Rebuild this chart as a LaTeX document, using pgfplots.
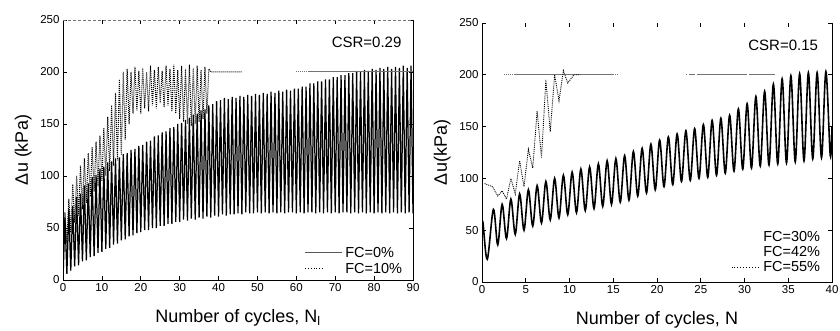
\documentclass[border=0pt]{standalone}
\usepackage{pgfplots}
\pgfplotsset{compat=1.18}
\usepackage{fontspec}
\setmainfont{Liberation Sans}
\pgfplotsset{
  base/.style={scale only axis, width=350pt,
    axis line style={draw=none},
    tick align=inside, major tick length=4pt,
    tick style={black, line width=0.6pt},
    ymin=0, ymax=250, ytick={0,50,...,250},
    /pgf/number format/assume math mode=true,
    tick label style={font=\fontsize{11.5}{12}\selectfont},
    label style={font=\fontsize{18}{20}\selectfont},
    xlabel style={at={(axis description cs:0.5,-0.146)}, anchor=center},
    ylabel style={at={(axis description cs:-0.114,0.5)}, anchor=center},
  },
}
\tikzset{leg/.style={anchor=west, inner sep=0pt, font=\fontsize{14.5}{15}\selectfont}}
\begin{document}
\begin{tikzpicture}
\useasboundingbox (0,0) rectangle (840pt,331pt);
% ---------------- left panel ----------------
\begin{axis}[base, at={(63pt,51pt)}, anchor=south west, height=260pt,
  xmin=0, xmax=90, xtick={0,10,...,90},
  xlabel={Number of cycles, N\textsubscript{l}}, ylabel={Δu (kPa)}]
% FC=0%
\addplot[black, line width=1.25pt] coordinates {
(0,0) (0.5,60) (1,6) (1.5,68) (2,9) (2.5,71) (3,13) (3.5,80) (4,14) (4.5,83)
(5,18) (5.5,91) (6,19) (6.5,93) (7,22) (7.5,99) (8,23) (8.5,101) (9,26) (9.5,107)
(10,27) (10.5,109) (11,30) (11.5,113) (12,31) (12.5,114) (13,34) (13.5,117) (14,35) (14.5,118)
(15,38) (15.5,121) (16,39) (16.5,122) (17,42) (17.5,125) (18,43) (18.5,126) (19,45) (19.5,129)
(20,46) (20.5,130) (21,48) (21.5,133) (22,48) (22.5,134) (23,50) (23.5,138) (24,50) (24.5,139)
(25,52) (25.5,142) (26,52) (26.5,143) (27,54) (27.5,146) (28,54) (28.5,147) (29,56) (29.5,150)
(30,56) (30.5,151) (31,58) (31.5,154) (32,57) (32.5,156) (33,59) (33.5,159) (34,58) (34.5,160)
(35,60) (35.5,163) (36,59) (36.5,164) (37,61) (37.5,168) (38,60) (38.5,169) (39,62) (39.5,172)
(40,61) (40.5,173) (41,63) (41.5,175) (42,62) (42.5,174) (43,63) (43.5,176) (44,63) (44.5,175)
(45,64) (45.5,177) (46,63) (46.5,176) (47,65) (47.5,178) (48,64) (48.5,177) (49,64) (49.5,179)
(50,65) (50.5,178) (51,64) (51.5,180) (52,65) (52.5,179) (53,64) (53.5,181) (54,65) (54.5,180)
(55,64) (55.5,182) (56,65) (56.5,181) (57,64) (57.5,183) (58,65) (58.5,182) (59,65) (59.5,184)
(60,64) (60.5,184) (61,65) (61.5,186) (62,64) (62.5,186) (63,65) (63.5,189) (64,65) (64.5,189)
(65,64) (65.5,191) (66,65) (66.5,191) (67,64) (67.5,193) (68,65) (68.5,193) (69,64) (69.5,195)
(70,65) (70.5,195) (71,64) (71.5,197) (72,65) (72.5,197) (73,65) (73.5,199) (74,64) (74.5,199)
(75,65) (75.5,201) (76,64) (76.5,200) (77,65) (77.5,202) (78,64) (78.5,201) (79,65) (79.5,203)
(80,64) (80.5,202) (81,65) (81.5,204) (82,64) (82.5,203) (83,65) (83.5,205) (84,64) (84.5,203)
(85,65) (85.5,205) (86,64) (86.5,204) (87,65) (87.5,206) (88,64) (88.5,204) (89,65) (89.5,206)
(90,64)};
% FC=10%
\addplot[black, line width=1pt, densely dotted] coordinates {
(0,15) (0.5,65) (1,35) (1.5,78) (2,45) (2.5,92) (3,55) (3.5,100) (4,62) (4.5,110)
(5,68) (5.5,117) (6,74) (6.5,122) (7,80) (7.5,128) (8,85) (8.5,133) (9,90) (9.5,139)
(10,95) (10.5,146) (11,100) (11.5,157) (12,105) (12.5,168) (13,110) (13.5,180) (14,115) (14.5,193)
(15,120) (15.5,200) (16,135) (16.5,203) (17,150) (17.5,200) (18,160) (18.5,205) (19,163) (19.5,201)
(20,160) (20.5,204) (21,165) (21.5,200) (22,162) (22.5,206) (23,168) (23.5,202) (24,165) (24.5,205)
(25,170) (25.5,201) (26,166) (26.5,206) (27,168) (27.5,203) (28,162) (28.5,207) (29,160) (29.5,202)
(30,155) (30.5,206) (31,152) (31.5,203) (32,150) (32.5,207) (33,148) (33.5,204) (34,150) (34.5,206)
(35,152) (35.5,202) (36,155) (36.5,205) (37,160) (37.5,203) (38,200) (46,200)};
% reference line at 200
\addplot[black!55, line width=1pt] coordinates {(63,200) (90,200)};
\addplot[black!55, line width=1pt, densely dotted] coordinates {(60,200) (63,200)};
% legend
\draw[black!65, line width=1pt] (axis description cs:0.691,0.104) -- (axis description cs:0.797,0.104);
\node[leg] at (axis description cs:0.806,0.104) {FC=0\%};
\draw[black, line width=0.9pt, dotted] (axis description cs:0.691,0.046) -- (axis description cs:0.745,0.046);
\node[leg] at (axis description cs:0.806,0.046) {FC=10\%};
\node[anchor=east, font=\fontsize{15}{15}\selectfont] at (axis description cs:0.977,0.915) {CSR=0.29};
\end{axis}
% ---------------- right panel ----------------
\begin{axis}[base, at={(482pt,49pt)}, anchor=south west, height=259pt,
  xmin=0, xmax=40, xtick={0,5,...,40},
  xlabel={Number of cycles, N}, ylabel={Δu(kPa)}]
% FC=42% (liquefied, at 200)
\addplot[black!55, line width=1.2pt] coordinates {(3.7,200) (15,200)};
\addplot[black!55, line width=1pt, densely dotted] coordinates {(2.5,200) (3.7,200)};
\addplot[black!55, line width=1pt, densely dotted] coordinates {(15,200) (15.6,200)};
\addplot[black!55, line width=1.1pt, dash pattern=on 1pt off 2pt on 6pt off 2pt on 50pt off 2pt on 30pt off 2pt] coordinates {(23.3,200) (33.5,200)};
% FC=30%
\addplot[black, line width=1.6pt, smooth, tension=0.55] coordinates {
(0,52) (0.1,58) (0.6,22) (1.3,70) (1.8,36) (2.3,75) (2.8,42) (3.3,80) (3.8,46) (4.3,85)
(4.8,50) (5.3,89) (5.8,54) (6.3,93) (6.8,57) (7.3,97) (7.8,60) (8.3,100) (8.8,62) (9.3,103)
(9.8,65) (10.3,106) (10.8,67) (11.3,109) (11.8,69) (12.3,111) (12.8,71) (13.3,114) (13.8,73) (14.3,117)
(14.8,75) (15.3,119) (15.8,77) (16.3,122) (16.8,79) (17.3,126) (17.8,83) (18.3,129) (18.8,86) (19.3,133)
(19.8,89) (20.3,137) (20.8,92) (21.3,140) (21.8,94) (22.3,143) (22.8,97) (23.3,146) (23.8,98) (24.3,148)
(24.8,100) (25.3,152) (25.8,101) (26.3,156) (26.8,103) (27.3,158) (27.8,105) (28.3,161) (28.8,107) (29.3,167)
(29.8,109) (30.3,172) (30.8,110) (31.3,179) (31.8,112) (32.3,184) (32.8,113) (33.3,191) (33.8,114) (34.3,196)
(34.8,115) (35.3,199) (35.8,116) (36.3,201) (36.8,117) (37.3,202) (37.8,119) (38.3,202) (38.8,120) (39.3,203)
(39.8,122) (40,150)};
% FC=55%
\addplot[black, line width=0.9pt, densely dotted] coordinates {
(0.3,95) (1.2,92) (1.8,83) (2.3,88) (2.8,80) (3.3,100) (3.8,85) (4.3,117) (4.8,92) (5.3,128)
(5.8,110) (6.3,165) (6.8,120) (7.3,195) (7.8,145) (8.3,200) (8.8,175) (9.3,204) (9.8,192) (10.5,200) (11.2,200)};
% legend
\node[leg] at (axis description cs:0.803,0.174) {FC=30\%};
\node[leg] at (axis description cs:0.803,0.116) {FC=42\%};
\draw[black, line width=0.9pt, dotted] (axis description cs:0.713,0.058) -- (axis description cs:0.794,0.058);
\node[leg] at (axis description cs:0.803,0.058) {FC=55\%};
\node[anchor=east, font=\fontsize{15}{15}\selectfont] at (axis description cs:0.97,0.915) {CSR=0.15};
\end{axis}
% frames
\draw[line width=0.9pt] (63pt,311pt) -- (63pt,51pt) -- (413pt,51pt) -- (413pt,311pt);
\draw[line width=0.9pt, black!55, densely dashed] (63pt,311pt) -- (413pt,311pt);
\draw[line width=0.9pt] (482pt,308pt) -- (482pt,49pt) -- (832pt,49pt) -- (832pt,308pt);
\end{tikzpicture}
\end{document}
